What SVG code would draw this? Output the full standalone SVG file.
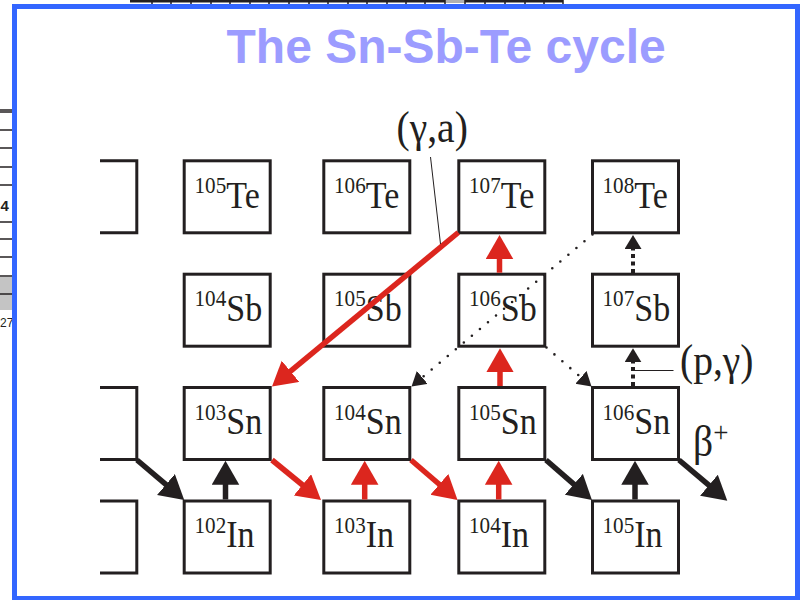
<svg xmlns="http://www.w3.org/2000/svg" width="804" height="600" viewBox="0 0 804 600">
<style>
.box{fill:#ffffff;stroke:#231f20;stroke-width:3}
.brk{fill:none;stroke:#231f20;stroke-width:3}
.lbl{font-family:"Liberation Serif","Times New Roman",serif;font-size:37px;fill:#231f20}
.sup{font-size:23px}
.title{font-family:"Liberation Sans",Arial,sans-serif;font-weight:bold;font-size:48px;fill:#9c9cff}
.ann{font-family:"Liberation Serif","Times New Roman",serif;font-size:44px;fill:#231f20}
.blk{stroke:#231f20;stroke-width:5.5;fill:none}
.red{stroke:#dc261e;stroke-width:5.5;fill:none}
.dotd{stroke:#231f20;stroke-width:2.6;stroke-linecap:round;stroke-dasharray:0 10.5;fill:none}
.dotv{stroke:#231f20;stroke-width:4;stroke-dasharray:4 3.5;fill:none}
.lead{stroke:#231f20;stroke-width:1;fill:none}
.frag{stroke:#231f20;stroke-width:1.5}
</style>
<defs>
<marker id="ah-black" markerUnits="userSpaceOnUse" markerWidth="26" markerHeight="28" refX="1" refY="13.75" orient="auto"><path d="M0,0 L24,13.75 L0,27.5 z" fill="#231f20"/></marker>
<marker id="ah-red" markerUnits="userSpaceOnUse" markerWidth="26" markerHeight="28" refX="1" refY="13.75" orient="auto"><path d="M0,0 L24,13.75 L0,27.5 z" fill="#dc261e"/></marker>
<marker id="ah-small" markerUnits="userSpaceOnUse" markerWidth="16" markerHeight="18" refX="1" refY="8.5" orient="auto"><path d="M0,0 L14,8.5 L0,17 z" fill="#231f20"/></marker>
</defs>
<rect width="804" height="600" fill="#ffffff"/>

<g id="page-fragments">
<line class="frag" x1="0" y1="110" x2="12" y2="110"/>
<line class="frag" x1="0" y1="112" x2="12" y2="112"/>
<line class="frag" x1="0" y1="130" x2="12" y2="130"/>
<line class="frag" x1="0" y1="148" x2="12" y2="148"/>
<line class="frag" x1="0" y1="167" x2="12" y2="167"/>
<line class="frag" x1="0" y1="185" x2="12" y2="185"/>
<line class="frag" x1="0" y1="222" x2="12" y2="222"/>
<line class="frag" x1="0" y1="239" x2="12" y2="239"/>
<line class="frag" x1="0" y1="257" x2="12" y2="257"/>
<rect x="0" y="277" width="12" height="33" fill="#c4c4c4"/>
<line class="frag" x1="0" y1="276" x2="12" y2="276"/>
<line class="frag" x1="0" y1="294" x2="12" y2="294"/>
<text x="0.5" y="211" font-family="Liberation Sans,Arial,sans-serif" font-weight="bold" font-size="15" fill="#231f20">4</text>
<text x="0" y="326.5" font-family="Liberation Sans,Arial,sans-serif" font-size="12" fill="#231f20">27</text>
<line x1="130" y1="1.2" x2="563" y2="1.2" stroke="#231f20" stroke-width="2.4"/>
<rect x="445" y="0" width="20" height="3" fill="#b0b0b0"/>
<path d="M152,0V4M171,0V4M191,0V4M211,0V4M230,0V4M250,0V4M269,0V4M289,0V4M309,0V4M328,0V4M348,0V4M367,0V4M387,0V4M406,0V4M425,0V4M445,0V4M465,0V4M485,0V4M505,0V4M525,0V4M544,0V4M563,0V4" stroke="#231f20" stroke-width="1.5"/>
</g>

<rect id="frame" x="14.5" y="6.5" width="783" height="592" fill="#ffffff" stroke="#3366ff" stroke-width="5"/>

<text id="title" class="title" x="226.5" y="63">The Sn-Sb-Te cycle</text>

<g id="brackets">
<path class="brk" d="M100,160.8H136.8V232.8H100"/>
<path class="brk" d="M100,387.5H136.8V459.5H100"/>
<path class="brk" d="M100,501H136.8V573H100"/>
</g>

<g id="n105Te"><rect class="box" x="184.2" y="160.8" width="86" height="72"/><text class="lbl" transform="translate(194.5,207.5) scale(0.92,1)"><tspan class="sup" dy="-14.5">105</tspan><tspan dy="14.5">Te</tspan></text></g>
<g id="n106Te"><rect class="box" x="323.8" y="160.8" width="86" height="72"/><text class="lbl" transform="translate(334,207.5) scale(0.92,1)"><tspan class="sup" dy="-14.5">106</tspan><tspan dy="14.5">Te</tspan></text></g>
<g id="n107Te"><rect class="box" x="458.8" y="160.8" width="86" height="72"/><text class="lbl" transform="translate(469,207.5) scale(0.92,1)"><tspan class="sup" dy="-14.5">107</tspan><tspan dy="14.5">Te</tspan></text></g>
<g id="n108Te"><rect class="box" x="592.5" y="160.8" width="86" height="72"/><text class="lbl" transform="translate(602.5,207.5) scale(0.92,1)"><tspan class="sup" dy="-14.5">108</tspan><tspan dy="14.5">Te</tspan></text></g>

<g id="n104Sb"><rect class="box" x="184.2" y="274.2" width="86" height="72"/><text class="lbl" transform="translate(194.5,320.5) scale(0.92,1)"><tspan class="sup" dy="-14.5">104</tspan><tspan dy="14.5">Sb</tspan></text></g>
<g id="n105Sb"><rect class="box" x="323.8" y="274.2" width="86" height="72"/><text class="lbl" transform="translate(334,320.5) scale(0.92,1)"><tspan class="sup" dy="-14.5">105</tspan><tspan dy="14.5">Sb</tspan></text></g>
<g id="n106Sb"><rect class="box" x="458.8" y="274.2" width="86" height="72"/><text class="lbl" transform="translate(469,320.5) scale(0.92,1)"><tspan class="sup" dy="-14.5">106</tspan><tspan dy="14.5">Sb</tspan></text></g>
<g id="n107Sb"><rect class="box" x="592.5" y="274.2" width="86" height="72"/><text class="lbl" transform="translate(602.5,320.5) scale(0.92,1)"><tspan class="sup" dy="-14.5">107</tspan><tspan dy="14.5">Sb</tspan></text></g>

<g id="n103Sn"><rect class="box" x="184.2" y="387.5" width="86" height="72"/><text class="lbl" transform="translate(194.5,434) scale(0.92,1)"><tspan class="sup" dy="-14.5">103</tspan><tspan dy="14.5">Sn</tspan></text></g>
<g id="n104Sn"><rect class="box" x="323.8" y="387.5" width="86" height="72"/><text class="lbl" transform="translate(334,434) scale(0.92,1)"><tspan class="sup" dy="-14.5">104</tspan><tspan dy="14.5">Sn</tspan></text></g>
<g id="n105Sn"><rect class="box" x="458.8" y="387.5" width="86" height="72"/><text class="lbl" transform="translate(469,434) scale(0.92,1)"><tspan class="sup" dy="-14.5">105</tspan><tspan dy="14.5">Sn</tspan></text></g>
<g id="n106Sn"><rect class="box" x="592.5" y="387.5" width="86" height="72"/><text class="lbl" transform="translate(602.5,434) scale(0.92,1)"><tspan class="sup" dy="-14.5">106</tspan><tspan dy="14.5">Sn</tspan></text></g>

<g id="n102In"><rect class="box" x="184.2" y="501" width="86" height="72"/><text class="lbl" transform="translate(194.5,547) scale(0.92,1)"><tspan class="sup" dy="-14.5">102</tspan><tspan dy="14.5">In</tspan></text></g>
<g id="n103In"><rect class="box" x="323.8" y="501" width="86" height="72"/><text class="lbl" transform="translate(334,547) scale(0.92,1)"><tspan class="sup" dy="-14.5">103</tspan><tspan dy="14.5">In</tspan></text></g>
<g id="n104In"><rect class="box" x="458.8" y="501" width="86" height="72"/><text class="lbl" transform="translate(469,547) scale(0.92,1)"><tspan class="sup" dy="-14.5">104</tspan><tspan dy="14.5">In</tspan></text></g>
<g id="n105In"><rect class="box" x="592.5" y="501" width="86" height="72"/><text class="lbl" transform="translate(602.5,547) scale(0.92,1)"><tspan class="sup" dy="-14.5">105</tspan><tspan dy="14.5">In</tspan></text></g>

<g id="connectors">
<line class="red" x1="458.3" y1="232.5" x2="289.7" y2="371.9" marker-end="url(#ah-red)"/>
<line class="red" x1="499.5" y1="272.7" x2="499.5" y2="258" marker-end="url(#ah-red)"/>
<line class="red" x1="500" y1="386" x2="500" y2="371.3" marker-end="url(#ah-red)"/>
<line class="blk" x1="225.5" y1="499.5" x2="225.5" y2="483.7" marker-end="url(#ah-black)"/>
<line class="red" x1="364.7" y1="499.5" x2="364.7" y2="483.7" marker-end="url(#ah-red)"/>
<line class="red" x1="498.7" y1="499.5" x2="498.7" y2="483.7" marker-end="url(#ah-red)"/>
<line class="blk" x1="635" y1="499.5" x2="635" y2="483.7" marker-end="url(#ah-black)"/>
<line class="blk" x1="137" y1="460" x2="166.7" y2="485.2" marker-end="url(#ah-black)"/>
<line class="red" x1="272" y1="460" x2="303.2" y2="485.5" marker-end="url(#ah-red)"/>
<line class="red" x1="411" y1="460" x2="440.1" y2="485" marker-end="url(#ah-red)"/>
<line class="blk" x1="546" y1="460" x2="574.6" y2="484.9" marker-end="url(#ah-black)"/>
<line class="blk" x1="679" y1="460" x2="709.7" y2="485.9" marker-end="url(#ah-black)"/>
<line class="dotv" x1="633" y1="273" x2="633" y2="248" marker-end="url(#ah-small)"/>
<line class="dotv" x1="633" y1="386" x2="633" y2="361.3" marker-end="url(#ah-small)"/>
<line class="dotd" x1="592.5" y1="234.5" x2="421.5" y2="378.1" marker-end="url(#ah-small)"/>
<line class="dotd" x1="546.5" y1="347.5" x2="581.7" y2="378" marker-end="url(#ah-small)"/>
<line class="lead" x1="430.5" y1="157" x2="440.5" y2="244"/>
<line class="lead" x1="634" y1="370.5" x2="673.5" y2="370.5"/>
</g>

<g id="labels">
<text class="ann" transform="translate(396.5,142) scale(0.9,1)">(γ,a)</text>
<text class="ann" transform="translate(680,375) scale(0.9,1)">(p,γ)</text>
<text class="ann" transform="translate(693,456) scale(0.9,1)">β<tspan font-size="30" dy="-14">+</tspan></text>
</g>
</svg>
